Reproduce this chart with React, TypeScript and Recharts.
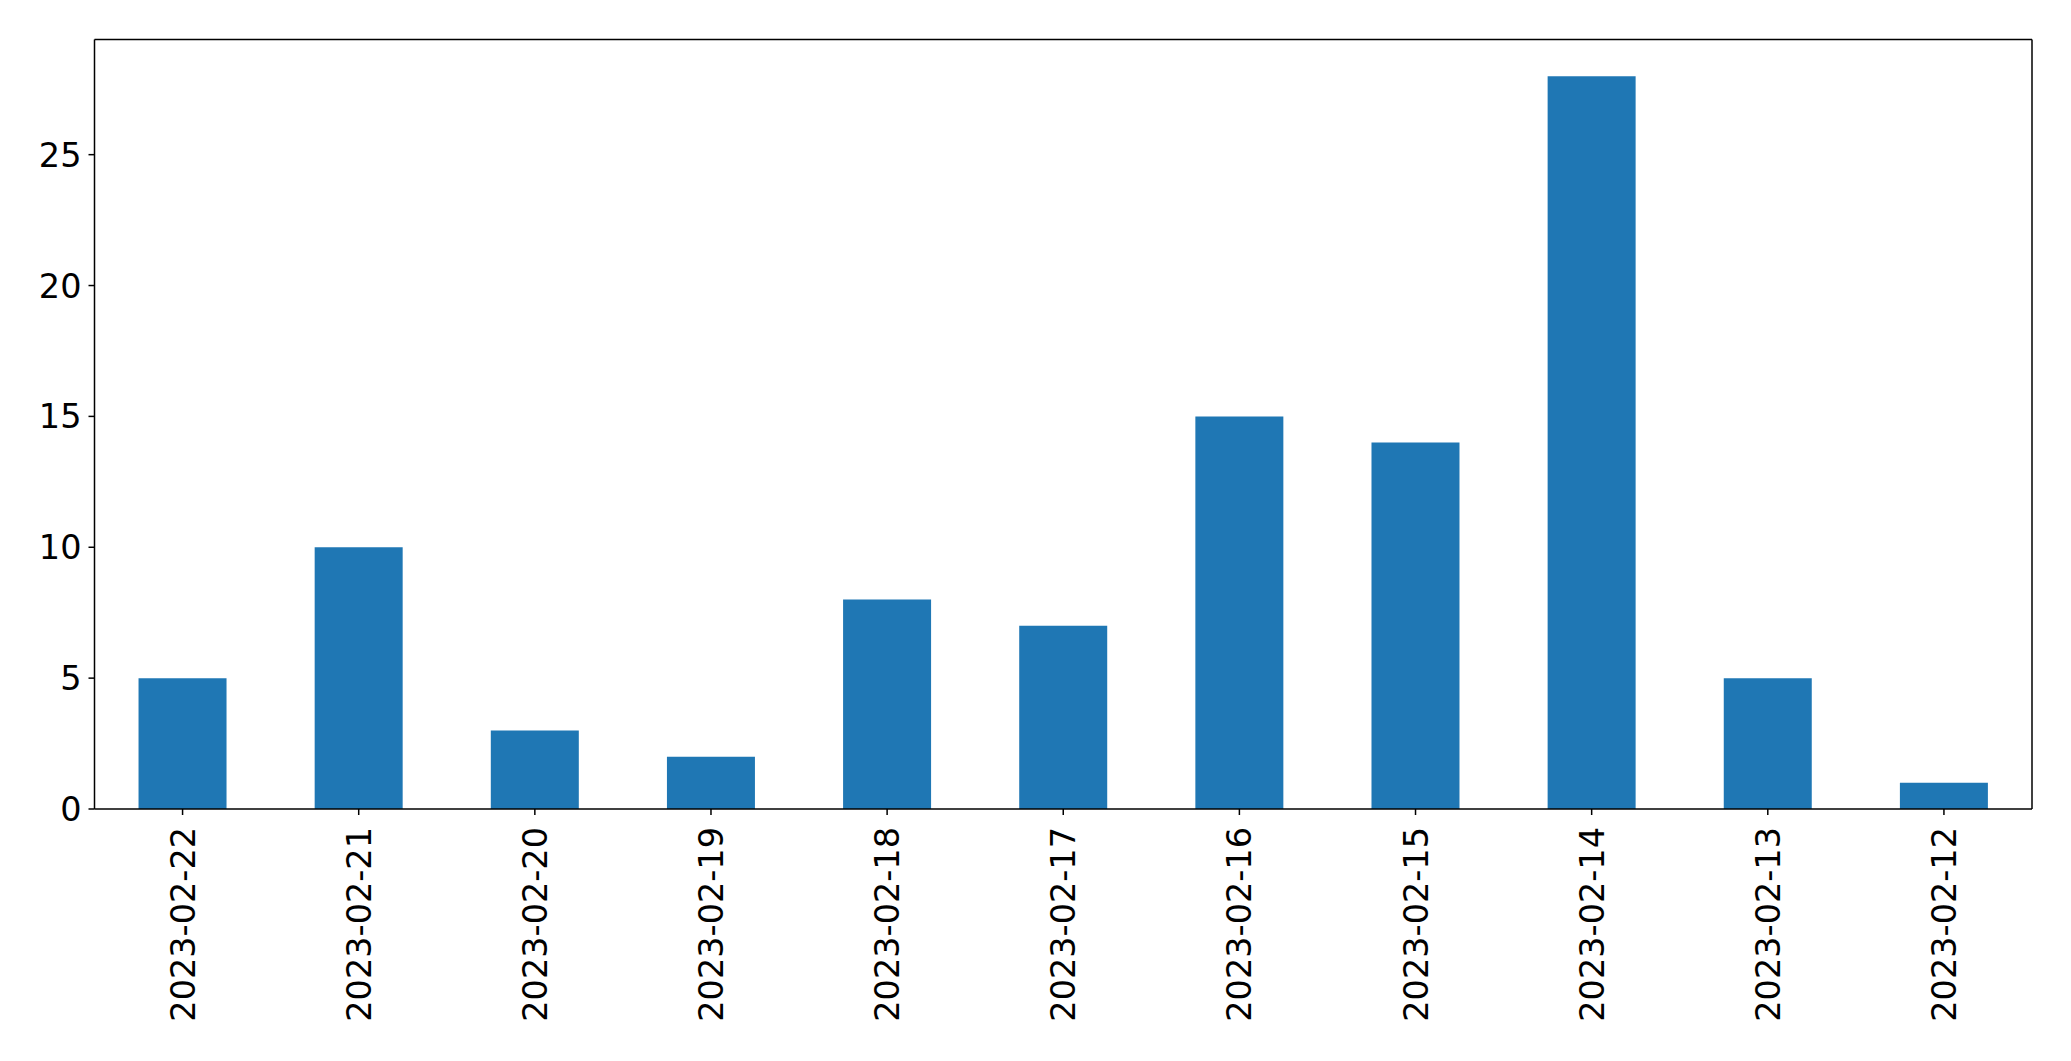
import React from 'react';
import { BarChart, Bar, XAxis, YAxis } from 'recharts';

const dates = [
    '2023-02-22', '2023-02-21', '2023-02-20', '2023-02-19', '2023-02-18', '2023-02-17',
    '2023-02-16', '2023-02-15', '2023-02-14', '2023-02-13', '2023-02-12',
];
const counts = [5, 10, 3, 2, 8, 7, 15, 14, 28, 5, 1];
const yTicks = [0, 5, 10, 15, 20, 25];

const data = dates.map((date, i) => ({ date, count: counts[i] }));

const FONT = 'DejaVu Sans';
const FONT_SIZE = 33.5;

const RotatedTick: React.FC<any> = ({ x, y, payload }) => (
    <text
        x={x}
        y={y}
        transform={`rotate(-90 ${x} ${y})`}
        textAnchor="end"
        dy="0.36em"
        fontFamily={FONT}
        fontSize={FONT_SIZE}
        fill="#000"
    >
        {payload.value}
    </text>
);

const LeftTick: React.FC<any> = ({ x, y, payload }) => (
    <text
        x={x}
        y={y}
        textAnchor="end"
        dy="0.36em"
        fontFamily={FONT}
        fontSize={FONT_SIZE}
        fill="#000"
    >
        {payload.value}
    </text>
);

const line = { stroke: '#000', strokeWidth: 1.5 };

const App: React.FC = () => {
    return (
        <div style={{ position: 'absolute', left: 0, top: 0, background: '#fff' }}>
            <BarChart
                width={2071}
                height={1061}
                data={data}
                margin={{ top: 38.5, right: 38, left: 0, bottom: 0 }}
                barCategoryGap="25%"
            >
                <XAxis
                    dataKey="date"
                    height={252}
                    interval={0}
                    tickSize={6}
                    tickMargin={12}
                    stroke="#000"
                    axisLine={line}
                    tickLine={line}
                    tick={<RotatedTick />}
                />
                <XAxis
                    xAxisId="top"
                    dataKey="date"
                    orientation="top"
                    height={1}
                    stroke="#000"
                    tick={false}
                    tickLine={false}
                    axisLine={line}
                />
                <YAxis
                    width={94.5}
                    domain={[0, 29.4]}
                    ticks={yTicks}
                    interval={0}
                    tickSize={6}
                    tickMargin={7}
                    stroke="#000"
                    axisLine={line}
                    tickLine={line}
                    tick={<LeftTick />}
                />
                <YAxis
                    yAxisId="right"
                    orientation="right"
                    width={1}
                    domain={[0, 29.4]}
                    stroke="#000"
                    tick={false}
                    tickLine={false}
                    axisLine={line}
                />
                <Bar dataKey="count" fill="#1f77b4" isAnimationActive={false} />
            </BarChart>
        </div>
    );
};

export default App;
